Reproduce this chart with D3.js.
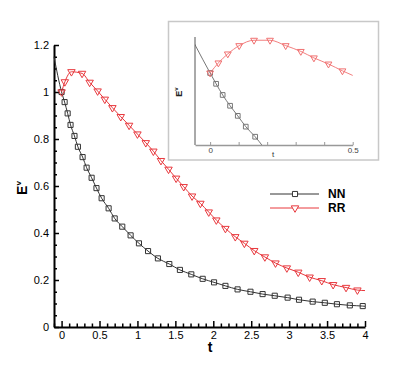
<!DOCTYPE html>
<html>
<head>
<meta charset="utf-8">
<script src="https://cdn.jsdelivr.net/npm/d3@7"></script>
<style>
  body { margin: 0; background: #fff; }
  svg text { font-family: "Liberation Sans", Arial, sans-serif; }
</style>
</head>
<body>
<svg id="chart" width="415" height="369"></svg>
<script>
// NN series (squares), main plot markers
const nnT = [0, 0.04, 0.08, 0.118, 0.17, 0.215, 0.277, 0.33, 0.396, 0.46, 0.528, 0.62, 0.70, 0.80, 0.91,
    1.02, 1.14, 1.27, 1.42, 1.56, 1.71, 1.86, 2.01, 2.16, 2.32, 2.49, 2.65, 2.81, 2.98, 3.13, 3.31,
    3.47, 3.63, 3.80, 3.97];
const nnE = [1.0, 0.957, 0.909, 0.860, 0.813, 0.767, 0.723, 0.678, 0.635, 0.591, 0.548, 0.505, 0.462, 0.427, 0.390,
    0.356, 0.323, 0.292, 0.268, 0.243, 0.224, 0.205, 0.19, 0.175, 0.16, 0.15, 0.14, 0.133, 0.125, 0.116, 0.108,
    0.103, 0.097, 0.092, 0.089];
// line ends of NN (no marker)
const nnStart = [-0.1, 1.15];
const nnEnd = [4, 0.088];

// RR series (triangles), main plot markers
const rrT = [0, 0.043, 0.13, 0.27, 0.37, 0.475, 0.57, 0.67, 0.78, 0.89, 1.0, 1.11, 1.21, 1.31, 1.41,
    1.51, 1.61, 1.72, 1.83, 1.94, 2.04, 2.16, 2.29, 2.41, 2.54, 2.68, 2.82, 2.97, 3.12, 3.27, 3.43,
    3.58, 3.75, 3.90];
const rrE = [1.0, 1.043, 1.086, 1.079, 1.041, 1.004, 0.969, 0.933, 0.895, 0.858, 0.821, 0.784, 0.748, 0.708, 0.671,
    0.633, 0.597, 0.557, 0.526, 0.489, 0.455, 0.419, 0.384, 0.356, 0.325, 0.298, 0.272, 0.251, 0.233, 0.212, 0.197,
    0.18, 0.168, 0.157];
const rrEnd = [4, 0.155];

// inset markers (zoom of the start)
const nnInsetT = [0, 0.021, 0.044, 0.070, 0.097, 0.125, 0.158];
const nnInsetE = [1.0, 0.970, 0.939, 0.909, 0.881, 0.851, 0.823];
const rrInsetT = [0, 0.029, 0.062, 0.102, 0.154, 0.21, 0.265, 0.318, 0.364, 0.415, 0.464];
const rrInsetE = [1.0, 1.028, 1.053, 1.076, 1.091, 1.091, 1.076, 1.06, 1.042, 1.025, 1.006];

// ticks
const xMajor = [0, 0.5, 1, 1.5, 2, 2.5, 3, 3.5, 4];
const yMajor = [0, 0.2, 0.4, 0.6, 0.8, 1, 1.2];
const insetTicks = [0, 0.1, 0.2, 0.3, 0.4, 0.5];
const insetLabels = [0, 0.5];

const svg = d3.select("#chart");

const nnColor = "#333";
const rrColor = "#e8383d";

// Main scales
const x = d3.scaleLinear().domain([-0.1, 4]).range([54, 365]);
const y = d3.scaleLinear().domain([0, 1.2]).range([327, 45]);

const nnPts = [nnStart].concat(nnT.map((t, i) => [t, nnE[i]])).concat([nnEnd]);
const rrPts = rrT.map((t, i) => [t, rrE[i]]).concat([rrEnd]);

// Minor ticks
const xMinor = d3.range(-1, 41).map(d => d / 10).filter(d => !xMajor.includes(d));
const yMinor = d3.range(0, 25).map(d => d / 20).filter(d => !yMajor.some(m => Math.abs(m - d) < 1e-9));

const xAxisMinor = svg.append("g")
    .attr("transform", `translate(0,${y(0)})`)
    .call(d3.axisBottom(x).tickValues(xMinor).tickSize(-3.5).tickSizeOuter(0).tickFormat(""));
xAxisMinor.select(".domain").remove();

const xAxis = svg.append("g")
    .attr("transform", `translate(0,${y(0)})`)
    .call(d3.axisBottom(x).tickValues(xMajor).tickSize(-6).tickSizeOuter(0).tickPadding(4)
        .tickFormat(d3.format("")));
xAxis.select(".domain").attr("stroke", "#000").attr("stroke-width", 2);
xAxis.selectAll("text").attr("font-size", 11).attr("fill", "#000");

const yAxisMinor = svg.append("g")
    .attr("transform", `translate(${x(-0.1)},0)`)
    .call(d3.axisLeft(y).tickValues(yMinor).tickSize(-3).tickSizeOuter(0).tickFormat(""));
yAxisMinor.select(".domain").remove();

const yAxis = svg.append("g")
    .attr("transform", `translate(${x(-0.1)},0)`)
    .call(d3.axisLeft(y).tickValues(yMajor).tickSize(-5).tickSizeOuter(0).tickPadding(5)
        .tickFormat(d3.format("")));
yAxis.select(".domain").attr("stroke", "#000").attr("stroke-width", 2);
yAxis.selectAll("text").attr("font-size", 11).attr("fill", "#000");
svg.selectAll(".tick line").attr("stroke-width", 1.5);

// Axis titles
svg.append("text")
    .attr("x", 210).attr("y", 352)
    .attr("text-anchor", "middle")
    .attr("font-size", 14).attr("font-weight", "bold")
    .text("t");

const yTitle = svg.append("text")
    .attr("transform", "translate(27,188) rotate(-90)")
    .attr("text-anchor", "middle")
    .attr("font-size", 14).attr("font-weight", "bold");
yTitle.append("tspan").text("E");
yTitle.append("tspan").attr("dy", -6).attr("font-size", 8).text("v");

// Lines
const line = d3.line().x(d => x(d[0])).y(d => y(d[1])).curve(d3.curveMonotoneX);

svg.append("path").datum(nnPts)
    .attr("d", line).attr("fill", "none").attr("stroke", nnColor).attr("stroke-width", 1);
svg.append("path").datum(rrPts)
    .attr("d", line).attr("fill", "none").attr("stroke", rrColor).attr("stroke-width", 1);

// Markers
const square = d3.symbol(d3.symbolSquare, 26);
const tri = d3.symbol(d3.symbolTriangle, 24);

svg.selectAll(".nn-mark")
    .data(nnT.map((t, i) => [t, nnE[i]]))
    .join("path")
    .attr("class", "nn-mark")
    .attr("d", square)
    .attr("transform", d => `translate(${x(d[0])},${y(d[1])})`)
    .attr("fill", "none").attr("stroke", nnColor).attr("stroke-width", 1);

svg.selectAll(".rr-mark")
    .data(rrT.map((t, i) => [t, rrE[i]]))
    .join("path")
    .attr("class", "rr-mark")
    .attr("d", tri)
    .attr("transform", d => `translate(${x(d[0])},${y(d[1])}) rotate(180)`)
    .attr("fill", "none").attr("stroke", rrColor).attr("stroke-width", 1);

// Legend
const legend = svg.append("g");
[["NN", nnColor, square, 0, 194], ["RR", rrColor, tri, 180, 208]].forEach(function (d) {
    legend.append("line")
        .attr("x1", 270).attr("x2", 319).attr("y1", d[4]).attr("y2", d[4])
        .attr("stroke", d[1]).attr("stroke-width", 1);
    legend.append("path")
        .attr("d", d[2])
        .attr("transform", `translate(295,${d[4]}) rotate(${d[3]})`)
        .attr("fill", "#fff").attr("stroke", d[1]).attr("stroke-width", 1);
    legend.append("text")
        .attr("x", 328).attr("y", d[4]).attr("dy", "0.36em")
        .attr("font-size", 12).attr("font-weight", "bold")
        .text(d[0]);
});

// ---------- Inset ----------
const inset = svg.append("g");
inset.append("rect")
    .attr("x", 168.5).attr("y", 21.5).attr("width", 210).attr("height", 138.5)
    .attr("fill", "#fff").attr("stroke", "#c8c8c8").attr("stroke-width", 1.5);

const ix = d3.scaleLinear().domain([-0.053, 0.5]).range([195, 352.7]);
const iy = d3.scaleLinear().domain([0.8, 1.1]).range([145, 37]);

inset.append("clipPath").attr("id", "inset-clip")
    .append("rect")
    .attr("x", ix(-0.053)).attr("y", iy(1.1))
    .attr("width", ix(0.5) - ix(-0.053)).attr("height", iy(0.8) - iy(1.1));

// inset lines: inset markers, continued with main points beyond them
const nnInsetPts = [nnStart].concat(nnInsetT.map((t, i) => [t, nnInsetE[i]]))
    .concat(nnT.map((t, i) => [t, nnE[i]]).filter(d => d[0] > 0.2 && d[0] < 0.6));
const rrInsetPts = rrInsetT.map((t, i) => [t, rrInsetE[i]])
    .concat(rrT.map((t, i) => [t, rrE[i]]).filter(d => d[0] > 0.5 && d[0] < 0.8));

const iline = d3.line().x(d => ix(d[0])).y(d => iy(d[1])).curve(d3.curveMonotoneX);
const plotArea = inset.append("g").attr("clip-path", "url(#inset-clip)");
plotArea.append("path").datum(nnInsetPts)
    .attr("d", iline).attr("fill", "none").attr("stroke", "#666").attr("stroke-width", 0.9);
plotArea.append("path").datum(rrInsetPts)
    .attr("d", iline).attr("fill", "none").attr("stroke", "#f07070").attr("stroke-width", 0.9);

// inset axes
const ixAxis = inset.append("g")
    .attr("transform", `translate(0,${iy(0.8)})`)
    .call(d3.axisBottom(ix).tickValues(insetTicks).tickSize(-3).tickSizeOuter(0).tickPadding(2)
        .tickFormat(d => insetLabels.includes(d) ? d3.format("")(d) : ""));
ixAxis.select(".domain").attr("stroke", "#999").attr("stroke-width", 1.5);
ixAxis.selectAll("line").attr("stroke", "#999");
ixAxis.selectAll("text").attr("font-size", 8).attr("fill", "#444");

inset.append("line")
    .attr("x1", ix(-0.053)).attr("x2", ix(-0.053))
    .attr("y1", iy(1.1)).attr("y2", iy(0.8))
    .attr("stroke", "#555").attr("stroke-width", 1);

inset.append("text")
    .attr("x", 273).attr("y", 157)
    .attr("text-anchor", "middle")
    .attr("font-size", 8).attr("fill", "#333")
    .text("t");

const iyTitle = inset.append("text")
    .attr("transform", "translate(182,92) rotate(-90)")
    .attr("text-anchor", "middle")
    .attr("font-size", 9).attr("font-weight", "bold").attr("fill", "#222");
iyTitle.append("tspan").text("E");
iyTitle.append("tspan").attr("dy", -4).attr("font-size", 6).text("v");

// inset markers
const isquare = d3.symbol(d3.symbolSquare, 22);
const itri = d3.symbol(d3.symbolTriangle, 20);

inset.selectAll(".nn-imark")
    .data(nnInsetT.map((t, i) => [t, nnInsetE[i]]))
    .join("path")
    .attr("class", "nn-imark")
    .attr("d", isquare)
    .attr("transform", d => `translate(${ix(d[0])},${iy(d[1])})`)
    .attr("fill", "none").attr("stroke", "#777").attr("stroke-width", 1);

inset.selectAll(".rr-imark")
    .data(rrInsetT.map((t, i) => [t, rrInsetE[i]]))
    .join("path")
    .attr("class", "rr-imark")
    .attr("d", itri)
    .attr("transform", d => `translate(${ix(d[0])},${iy(d[1])}) rotate(180)`)
    .attr("fill", "none").attr("stroke", "#f07070").attr("stroke-width", 1);
</script>
</body>
</html>
